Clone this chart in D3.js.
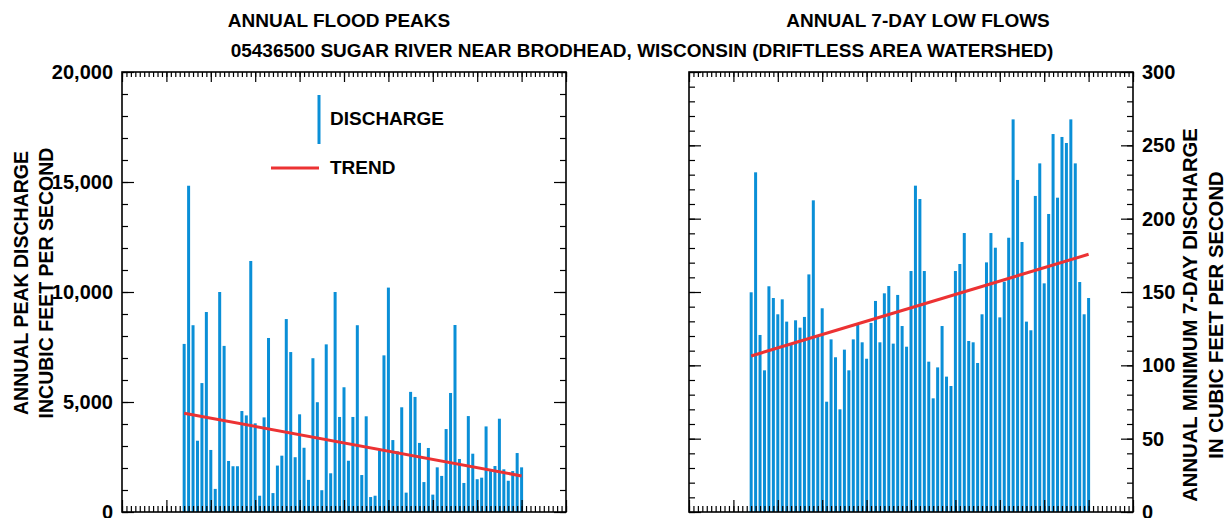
<!DOCTYPE html>
<html>
<head>
<meta charset="utf-8">
<script src="https://cdn.jsdelivr.net/npm/d3@7"></script>
<style>
  html, body { margin: 0; padding: 0; background: #fff; overflow: hidden; }
  svg text { font-family: "Liberation Sans", Arial, Helvetica, sans-serif; font-weight: bold; fill: #000; }
</style>
</head>
<body>
<div id="chart"></div>
<script>
// water years on record, 1914-1990
const years = d3.range(1914, 1991);

// annual flood peaks, cubic feet per second
const peakFlows = [
  7640, 14830, 8490, 3240, 5860, 9090, 2820, 1050, 10000, 7550,
  2320, 2080, 2080, 4590, 4390, 11410, 4030, 740, 4300, 7910,
  860, 2110, 2560, 8770, 7270, 2490, 4440, 2920, 1460, 6990,
  4990, 990, 7620, 1760, 10000, 4320, 5670, 2330, 4320, 8490,
  1680, 4350, 680, 740, 2800, 7120, 10200, 3270, 2760, 4760,
  880, 5460, 5230, 3140, 1360, 2910, 790, 2030, 1640, 3770,
  5410, 8500, 2410, 1320, 4360, 2650, 1490, 1560, 3890, 1860,
  2090, 4240, 1940, 1420, 1860, 2680, 2030
];

// annual minimum 7-day discharge, cubic feet per second
const lowFlows = [
  149.8, 231.6, 120.7, 96.6, 153.9, 145.9, 134.8, 145.0, 129.8, 114.5,
  130.7, 125.7, 133.0, 162.0, 212.5, 120.0, 138.9, 75.2, 117.7, 105.5,
  70.0, 110.7, 96.6, 117.7, 127.5, 115.7, 104.5, 128.9, 143.9, 115.7,
  149.1, 154.1, 114.8, 148.0, 126.8, 112.7, 164.3, 222.5, 213.4, 164.3,
  102.5, 77.5, 98.6, 126.8, 92.3, 85.9, 164.3, 169.1, 190.2, 116.6,
  115.7, 101.6, 134.8, 170.2, 190.2, 180.2, 132.7, 157.0, 187.0, 267.7,
  226.4, 184.1, 129.8, 123.9, 215.5, 237.7, 155.9, 203.2, 257.7, 214.3,
  255.7, 251.6, 267.7, 237.7, 156.8, 134.8, 145.9
];

// fitted trend lines, [start, end] over the record
const peakTrend = [[1914, 4490], [1990, 1640]];
const lowTrend = [[1914, 106.4], [1990, 175.7]];

const peakTicks = [0, 5000, 10000, 15000, 20000];
const lowTicks = [0, 50, 100, 150, 200, 250, 300];

const width = 1229, height = 518;
const barColor = "#0a8fd7", trendColor = "#ec3233";

const svg = d3.select("#chart").append("svg")
  .attr("width", width).attr("height", height)
  .attr("viewBox", `0 0 ${width} ${height}`);

// titles
svg.append("text").attr("x", 339).attr("y", 27).attr("text-anchor", "middle")
  .attr("font-size", "19px").text("ANNUAL FLOOD PEAKS");
svg.append("text").attr("x", 918).attr("y", 27).attr("text-anchor", "middle")
  .attr("font-size", "19px").text("ANNUAL 7-DAY LOW FLOWS");
svg.append("text").attr("x", 642).attr("y", 57).attr("text-anchor", "middle")
  .attr("font-size", "19px")
  .text("05436500 SUGAR RIVER NEAR BRODHEAD, WISCONSIN (DRIFTLESS AREA WATERSHED)");

/**
 * one panel: bars, trend line, framed axes with inward ticks
 */
function drawPanel(opts) {
  const { left, right, top, bottom, values, trend, yMax, yTicks, yMinorStep, labelSide } = opts;
  const x = d3.scaleLinear().domain([1900, 2000]).range([left, right]);
  const y = d3.scaleLinear().domain([0, yMax]).range([bottom, top]);
  const g = svg.append("g");

  // bars
  g.append("g").selectAll("rect").data(values).join("rect")
    .attr("x", (d, i) => x(years[i]) - 1.5)
    .attr("width", 3)
    .attr("y", d => y(d))
    .attr("height", d => y(0) - y(d))
    .attr("fill", barColor);

  // trend
  g.append("path").datum(trend)
    .attr("d", d3.line().x(d => x(d[0])).y(d => y(d[1])))
    .attr("fill", "none").attr("stroke", trendColor).attr("stroke-width", 3);

  // x axes, top and bottom, minor each year and major each decade
  // (year labels sit below the picture's edge, as in the original)
  const minorYears = d3.range(1900, 2001);
  const majorYears = d3.range(1900, 2001, 10);
  const axisStyle = sel => {
    sel.select(".domain").remove();
    sel.selectAll("line").attr("stroke", "#000").attr("stroke-width", 1.2);
  };
  g.append("g").attr("transform", `translate(0,${top})`)
    .call(d3.axisTop(x).tickValues(minorYears).tickSize(-5).tickFormat(""))
    .call(axisStyle);
  g.append("g").attr("transform", `translate(0,${top})`)
    .call(d3.axisTop(x).tickValues(majorYears).tickSize(-10).tickFormat(""))
    .call(axisStyle);
  g.append("g").attr("transform", `translate(0,${bottom})`)
    .call(d3.axisBottom(x).tickValues(minorYears).tickSize(-6).tickFormat(""))
    .call(axisStyle);
  g.append("g").attr("transform", `translate(0,${bottom})`)
    .call(d3.axisBottom(x).tickValues(majorYears).tickSize(-12).tickFormat(""))
    .call(axisStyle);

  // y axes, both sides
  const minorY = d3.range(0, yMax + 1, yMinorStep);
  const fmt = d3.format(",");
  [["left", left], ["right", right]].forEach(([side, pos]) => {
    const mk = side === "left" ? d3.axisLeft : d3.axisRight;
    g.append("g").attr("transform", `translate(${pos},0)`)
      .call(mk(y).tickValues(minorY).tickSize(-6).tickFormat(""))
      .call(axisStyle);
    const major = g.append("g").attr("transform", `translate(${pos},0)`)
      .call(mk(y).tickValues(yTicks).tickSize(-12).tickPadding(9)
        .tickFormat(side === labelSide ? fmt : ""))
      .call(axisStyle);
    major.selectAll("text").attr("font-size", "20px").attr("fill", "#000");
  });

  // frame
  g.append("rect").attr("x", left).attr("y", top)
    .attr("width", right - left).attr("height", bottom - top)
    .attr("fill", "none").attr("stroke", "#000").attr("stroke-width", 1.6);

  return { x, y, g };
}

const peaks = drawPanel({
  left: 122, right: 566, top: 72, bottom: 512,
  values: peakFlows, trend: peakTrend, yMax: 20000,
  yTicks: peakTicks, yMinorStep: 1000, labelSide: "left"
});

drawPanel({
  left: 689, right: 1133, top: 72, bottom: 512,
  values: lowFlows, trend: lowTrend, yMax: 300,
  yTicks: lowTicks, yMinorStep: 10, labelSide: "right"
});

// legend inside the flood peak panel
const lg = peaks.g.append("g");
lg.append("line").attr("x1", 319).attr("x2", 319).attr("y1", 95).attr("y2", 144)
  .attr("stroke", barColor).attr("stroke-width", 3);
lg.append("text").attr("x", 330).attr("y", 125).attr("font-size", "19px").text("DISCHARGE");
lg.append("line").attr("x1", 271).attr("x2", 319).attr("y1", 168).attr("y2", 168)
  .attr("stroke", trendColor).attr("stroke-width", 3);
lg.append("text").attr("x", 330).attr("y", 174).attr("font-size", "19px").text("TREND");

// y axis titles
const yTitle = (x, y, size, lines) => {
  const t = svg.append("text").attr("transform", `translate(${x},${y}) rotate(-90)`)
    .attr("text-anchor", "middle").attr("font-size", size);
  lines.forEach((s, i) => t.append("tspan").attr("x", 0).attr("dy", i ? "1.3em" : 0).text(s));
};
yTitle(28, 283, "19.5px", ["ANNUAL PEAK DISCHARGE", "INCUBIC FEET PER SECOND"]);
yTitle(1197, 315, "20.3px", ["ANNUAL MINIMUM 7-DAY DISCHARGE", "IN CUBIC FEET PER SECOND"]);
</script>
</body>
</html>
